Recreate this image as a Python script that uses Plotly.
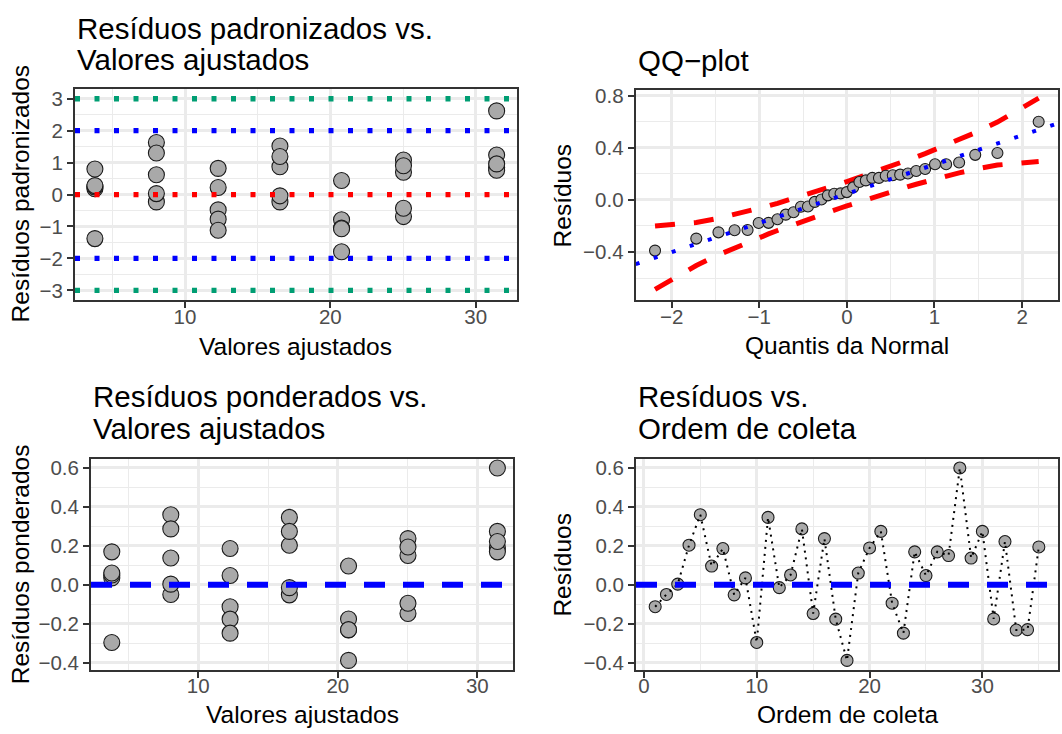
import numpy as np
import plotly.graph_objects as go
from statistics import NormalDist

# ------------------------------------------------------------------
# Dados do ajuste (uma entrada por observação, na ordem de coleta)
# ------------------------------------------------------------------
ajustados = [12.28, 8.03, 8.03, 16.53, 8.03, 20.77, 12.28, 16.53, 3.80, 3.80,
             16.53, 16.53, 3.80, 8.03, 25.03, 25.03, 12.28, 20.77, 3.80, 31.44,
             16.53, 25.03, 12.28, 3.80, 12.28, 31.44, 25.03, 31.44, 8.03, 31.44,
             20.77, 31.44, 20.77, 20.77, 25.03]

residuos = [-0.113, -0.050, 0.003, 0.203, 0.360, 0.096, 0.186, -0.052, 0.035, -0.297,
            0.346, -0.015, 0.050, 0.287, -0.148, 0.237, -0.177, -0.389, 0.060, 0.189,
            0.274, -0.095, -0.249, 0.169, 0.047, 0.169, 0.150, 0.600, 0.137, 0.274,
            -0.176, 0.222, -0.233, -0.231, 0.194]

padronizados = [-0.48, -0.23, 0.03, 0.87, 1.63, 0.44, 0.82, -0.23, 0.18, -1.38,
                1.52, -0.04, 0.24, 1.30, -0.69, 1.08, -0.77, -1.79, 0.28, 0.85,
                1.19, -0.43, -1.12, 0.80, 0.22, 0.76, 0.70, 2.62, 0.62, 1.24,
                -0.79, 0.96, -1.05, -1.07, 0.90]

ordem = list(range(1, len(residuos) + 1))

# linhas de referência do gráfico de resíduos padronizados
niveis_verde = [-3, 3]
niveis_azul = [-2, 2]
nivel_zero = [0]

# marcas dos eixos
ticks_ajust = [10, 20, 30]
minor_ajust = [5, 15, 25]
ticks_padr = [-3, -2, -1, 0, 1, 2, 3]
minor_padr = [-2.5, -1.5, -0.5, 0.5, 1.5, 2.5]
ticks_qx = [-2, -1, 0, 1, 2]
minor_qx = [-1.5, -0.5, 0.5, 1.5]
ticks_qy = [-0.4, 0.0, 0.4, 0.8]
minor_qy = [-0.6, -0.2, 0.2, 0.6]
ticks_res = [-0.4, -0.2, 0.0, 0.2, 0.4, 0.6]
minor_res = [-0.3, -0.1, 0.1, 0.3, 0.5]
ticks_ordem = [0, 10, 20, 30]
minor_ordem = [5, 15, 25, 35]

# ------------------------------------------------------------------
# QQ-plot: quantis teóricos, reta pelos quartis e banda pontual 95%
# ------------------------------------------------------------------
nd = NormalDist()
n = len(residuos)
amostra = sorted(residuos)
probs = [(i + 0.5) / n for i in range(n)]
teoricos = [nd.inv_cdf(p) for p in probs]
q1, q3 = np.quantile(residuos, [0.25, 0.75])
z1, z3 = nd.inv_cdf(0.25), nd.inv_cdf(0.75)
incl = (q3 - q1) / (z3 - z1)
inter = q1 - incl * z1
zc = nd.inv_cdf(0.975)
banda_sup, banda_inf = [], []
for z, p in zip(teoricos, probs):
    se = incl / nd.pdf(z) * np.sqrt(p * (1 - p) / n)
    banda_sup.append(inter + incl * z + zc * se)
    banda_inf.append(inter + incl * z - zc * se)
qq_range_x = [-2.41, 2.41]

# ------------------------------------------------------------------
W, H = 1062, 734
FONT = "Liberation Sans, Arial, Helvetica, sans-serif"


def px_x(p):
    return p / W


def px_y(p):
    return 1 - p / H


def minus(v, fmt):
    return (fmt % v).replace("-", "\u2212")


PT_FILL = "#A9A9A9"
PT_LINE = dict(color="#1a1a1a", width=1.1)

fig = go.Figure()

# painel 1: resíduos padronizados vs ajustados
fig.add_trace(go.Scatter(x=ajustados, y=padronizados, mode="markers", xaxis="x", yaxis="y",
                         marker=dict(size=16, color=PT_FILL, line=PT_LINE)))

# painel 2: QQ-plot
fig.add_trace(go.Scatter(x=teoricos, y=banda_sup, mode="lines", xaxis="x2", yaxis="y2",
                         line=dict(color="#FF0000", width=5, dash="20px,19px")))
fig.add_trace(go.Scatter(x=teoricos, y=banda_inf, mode="lines", xaxis="x2", yaxis="y2",
                         line=dict(color="#FF0000", width=5, dash="20px,19px")))
fig.add_trace(go.Scatter(x=teoricos, y=amostra, mode="markers", xaxis="x2", yaxis="y2",
                         marker=dict(size=11, color=PT_FILL, line=PT_LINE)))
fig.add_trace(go.Scatter(x=qq_range_x, y=[inter + incl * v for v in qq_range_x], mode="lines",
                         xaxis="x2", yaxis="y2",
                         line=dict(color="#0000FF", width=4, dash="4px,15px")))

# painel 3: resíduos ponderados vs ajustados
fig.add_trace(go.Scatter(x=ajustados, y=residuos, mode="markers", xaxis="x3", yaxis="y3",
                         marker=dict(size=16, color=PT_FILL, line=PT_LINE)))

# painel 4: resíduos vs ordem de coleta
fig.add_trace(go.Scatter(x=ordem, y=residuos, mode="markers", xaxis="x4", yaxis="y4",
                         marker=dict(size=12, color=PT_FILL, line=PT_LINE)))
fig.add_trace(go.Scatter(x=ordem, y=residuos, mode="lines", xaxis="x4", yaxis="y4",
                         line=dict(color="#000000", width=2, dash="2px,5px")))

# linhas horizontais de referência
shapes = []
DOT = "5px,14.5px"
for v in niveis_verde:
    shapes.append(dict(type="line", xref="x domain", yref="y", x0=0, x1=1, y0=v, y1=v,
                       line=dict(color="#009E73", width=5.3, dash=DOT), layer="above"))
for v in niveis_azul:
    shapes.append(dict(type="line", xref="x domain", yref="y", x0=0, x1=1, y0=v, y1=v,
                       line=dict(color="#0000FF", width=5.3, dash=DOT), layer="above"))
for v in nivel_zero:
    shapes.append(dict(type="line", xref="x domain", yref="y", x0=0, x1=1, y0=v, y1=v,
                       line=dict(color="#FF0000", width=5.3, dash=DOT), layer="above"))
    for ax in ("3", "4"):
        shapes.append(dict(type="line", xref="x%s domain" % ax, yref="y" + ax, x0=0, x1=1,
                           y0=v, y1=v,
                           line=dict(color="#0000FF", width=6, dash="21px,18px"), layer="above"))
fig.update_layout(shapes=shapes)


def eixo(dom, rng, tv, mv, fmt, anchor, standoff=0):
    return dict(domain=dom, range=rng, anchor=anchor,
                tickmode="array", tickvals=tv, ticktext=[minus(v, fmt) for v in tv],
                showline=True, mirror=True, linecolor="#333333", linewidth=2,
                ticks="outside", ticklen=6, tickwidth=2, tickcolor="#333333",
                ticklabelstandoff=standoff,
                tickfont=dict(size=20.5, color="#4D4D4D", family=FONT),
                showgrid=True, gridcolor="#EBEBEB", gridwidth=2.6, zeroline=False,
                minor=dict(tickmode="array", tickvals=mv, showgrid=True,
                           gridcolor="#EBEBEB", gridwidth=1.4, ticks=""))


# posições dos painéis (px)
tl = dict(x=(75, 516.7), y=(84, 298.3))
tr = dict(x=(635.7, 1058), y=(85, 298.3))
bl = dict(x=(91, 513.3), y=(459.3, 672.7))
br = dict(x=(636, 1058), y=(459.3, 672.7))


def dx(p):
    return [px_x(p["x"][0]), px_x(p["x"][1])]


def dy(p):
    return [px_y(p["y"][1]), px_y(p["y"][0])]


XS = -9
fig.update_layout(
    width=W, height=H, margin=dict(l=0, r=0, t=0, b=0),
    paper_bgcolor="white", plot_bgcolor="white", showlegend=False,
    font=dict(family=FONT, color="#000000"),
    xaxis=eixo(dx(tl), [2.43, 32.82], ticks_ajust, minor_ajust, "%d", "y", XS),
    yaxis=eixo(dy(tl), [-3.31, 3.31], ticks_padr, minor_padr, "%d", "x"),
    xaxis2=eixo(dx(tr), qq_range_x, ticks_qx, minor_qx, "%d", "y2", XS),
    yaxis2=eixo(dy(tr), [-0.77, 0.845], ticks_qy, minor_qy, "%.1f", "x2"),
    xaxis3=eixo(dx(bl), [2.31, 32.58], ticks_ajust, minor_ajust, "%d", "y3", XS),
    yaxis3=eixo(dy(bl), [-0.436, 0.646], ticks_res, minor_res, "%.1f", "x3"),
    xaxis4=eixo(dx(br), [-0.7, 36.7], ticks_ordem, minor_ordem, "%d", "y4", XS),
    yaxis4=eixo(dy(br), [-0.436, 0.646], ticks_res, minor_res, "%.1f", "x4"),
)

ann = []


def texto(t, x, y, size, angle=0, xanchor="left"):
    ann.append(dict(text=t, x=px_x(x), y=px_y(y), xref="paper", yref="paper",
                    xanchor=xanchor, yanchor="middle", showarrow=False, textangle=angle,
                    font=dict(size=size, color="#000000", family=FONT)))


# títulos
TS = 29.5
texto("Resíduos padronizados vs.", 75, 22.5, TS)
texto("Valores ajustados", 75, 53.8, TS)
texto("QQ\u2212plot", 635.7, 55.5, TS)
texto("Resíduos ponderados vs.", 91, 396.3, TS)
texto("Valores ajustados", 91, 428.1, TS)
texto("Resíduos vs.", 636, 396.3, TS)
texto("Ordem de coleta", 636, 428.1, TS)

# títulos dos eixos
AS = 24.5
texto("Valores ajustados", 295.9, 345.5, AS, xanchor="center")
texto("Quantis da Normal", 846.9, 344.5, AS, xanchor="center")
texto("Valores ajustados", 302.2, 718.5, AS, xanchor="center")
texto("Ordem de coleta", 847, 718.5, AS, xanchor="center")
texto("Resíduos padronizados", 20, 191, AS, angle=-90, xanchor="center")
texto("Resíduos", 562.3, 191.7, AS, angle=-90, xanchor="center")
texto("Resíduos ponderados", 20, 566, AS, angle=-90, xanchor="center")
texto("Resíduos", 562.3, 566, AS, angle=-90, xanchor="center")

fig.update_layout(annotations=ann)

fig.write_html("out.html")
